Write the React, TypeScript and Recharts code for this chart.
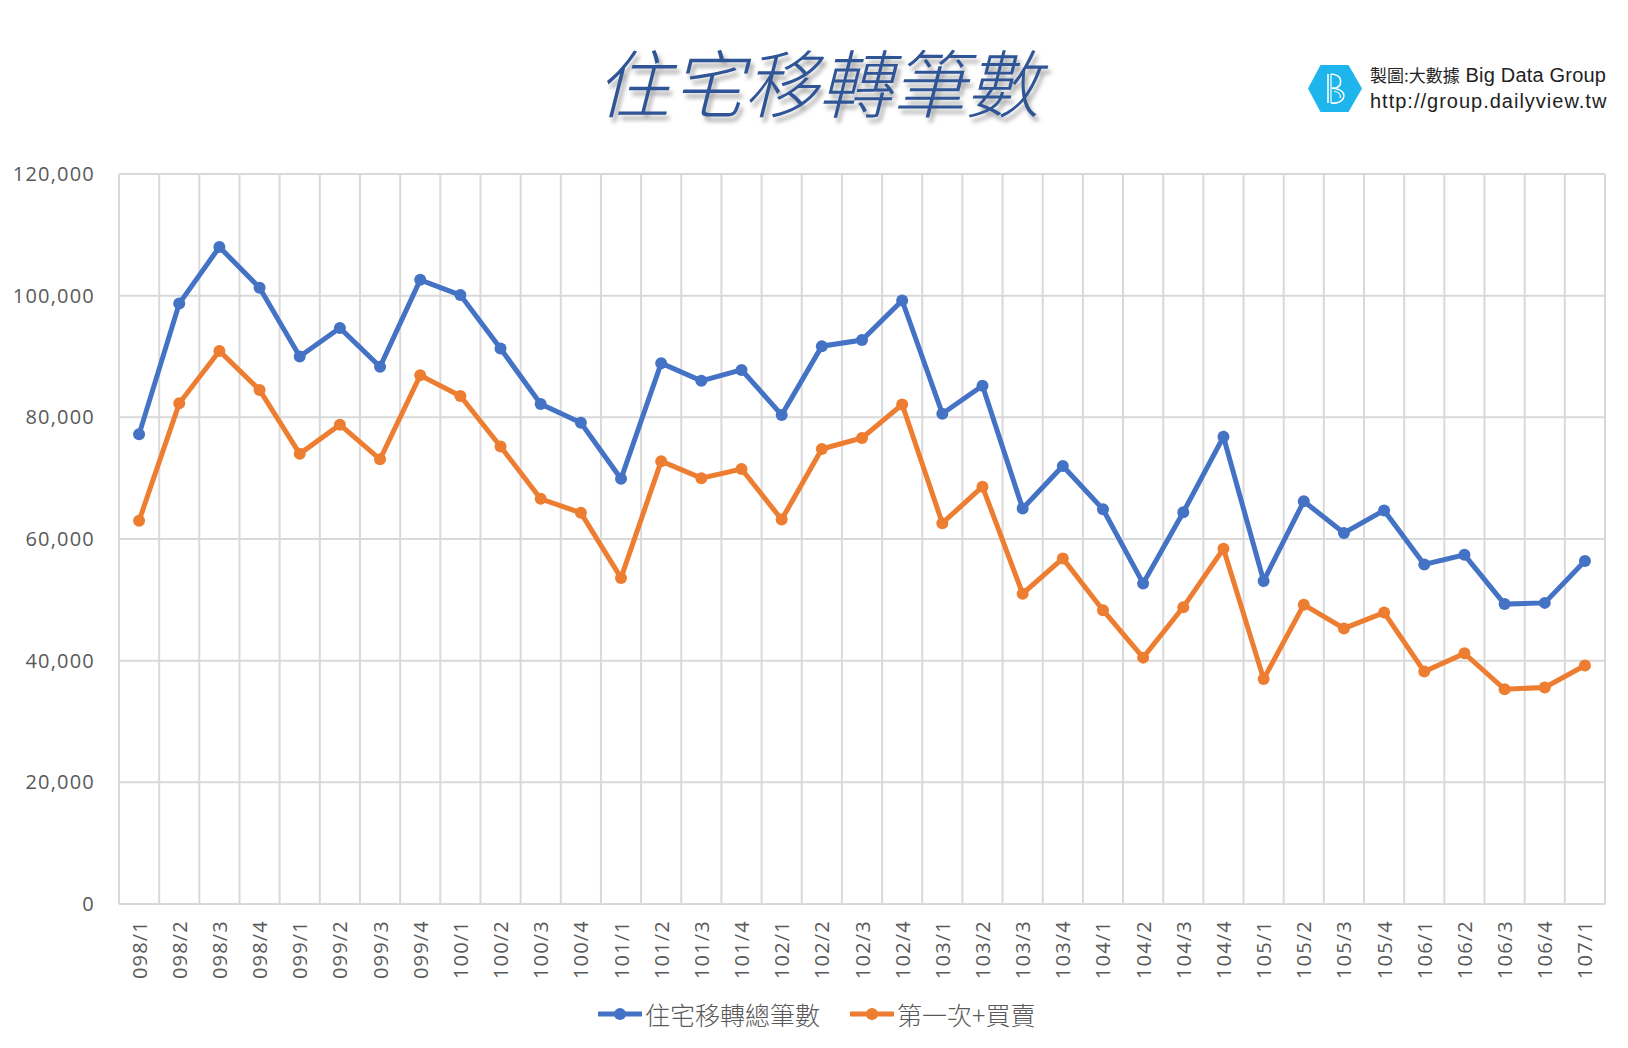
import React from 'react';
import { LineChart, Line, XAxis, YAxis, CartesianGrid } from 'recharts';

const quarters = [
  '098/1', '098/2', '098/3', '098/4',
  '099/1', '099/2', '099/3', '099/4',
  '100/1', '100/2', '100/3', '100/4',
  '101/1', '101/2', '101/3', '101/4',
  '102/1', '102/2', '102/3', '102/4',
  '103/1', '103/2', '103/3', '103/4',
  '104/1', '104/2', '104/3', '104/4',
  '105/1', '105/2', '105/3', '105/4',
  '106/1', '106/2', '106/3', '106/4',
  '107/1',
];

const totalTransfers = [
  77200, 98700, 108000, 101300,
  90000, 94700, 88300, 102600,
  100100, 91300, 82200, 79100,
  69900, 88900, 86000, 87800,
  80400, 91700, 92700, 99200,
  80600, 85200, 65000, 72000,
  64900, 52700, 64400, 76800,
  53100, 66200, 61000, 64700,
  55800, 57400, 49300, 49500,
  56400,
];

const firstAndSale = [
  63000, 82300, 90900, 84500,
  74000, 78800, 73100, 86900,
  83500, 75200, 66600, 64300,
  53600, 72800, 70000, 71500,
  63200, 74800, 76600, 82100,
  62600, 68600, 51000, 56800,
  48300, 40500, 48800, 58400,
  37000, 49200, 45300, 47900,
  38200, 41200, 35300, 35600,
  39200,
];

const yTicks = [0, 20000, 40000, 60000, 80000, 100000, 120000];

const seriesNames = ['住宅移轉總筆數', '第一次+買賣'];
const seriesColors = ['#4472C4', '#ED7D31'];

const data = quarters.map((q, i) => ({
  q,
  total: totalTransfers[i],
  first: firstAndSale[i],
}));

const W = 1628;
const H = 1048;
const PLOT_LEFT = 119;
const PLOT_RIGHT = 1605;
const PLOT_TOP = 174;
const PLOT_BOTTOM = 904;
const HALF = (PLOT_RIGHT - PLOT_LEFT) / quarters.length / 2;

const XTick = (props: any) => {
  const { x, y, payload } = props;
  const ty = y + 16;
  return (
    <text
      x={x}
      y={ty}
      transform={`rotate(-90 ${x} ${ty})`}
      textAnchor="end"
      dominantBaseline="central"
      fill="#595959"
      fontSize={20}
      letterSpacing={1.2}
      fontFamily="'Open Sans', sans-serif"
    >
      {payload.value}
    </text>
  );
};

const fmt = (v: number) => v.toLocaleString('en-US');

const LegendIcon = ({ color }: { color: string }) => (
  <svg width={44} height={14} style={{ display: 'block' }}>
    <line x1={1} y1={7} x2={43} y2={7} stroke={color} strokeWidth={5} strokeLinecap="round" />
    <circle cx={22} cy={7} r={6} fill={color} />
  </svg>
);

export default function App() {
  return (
    <div
      style={{
        position: 'absolute',
        left: 0,
        top: 0,
        width: W,
        height: H,
        background: '#ffffff',
        overflow: 'hidden',
      }}
    >
      {/* Title */}
      <div
        style={{
          position: 'absolute',
          left: 596,
          top: 40,
          fontSize: 74,
          lineHeight: '80px',
          fontFamily: "'Noto Sans CJK TC', sans-serif",
          fontWeight: 300,
          fontStyle: 'italic',
          color: '#2F5597',
          textShadow: '3px 5px 4px rgba(0,0,0,0.35)',
          whiteSpace: 'nowrap',
        }}
      >
        住宅移轉筆數
      </div>

      {/* Logo */}
      <svg
        width={56}
        height={49}
        style={{ position: 'absolute', left: 1307, top: 64 }}
      >
        <polygon points="13.5,1 41.5,1 55,24.5 41.5,48 13.5,48 1,24.5" fill="#1EB4EC" />
        <line x1={21} y1={10} x2={21} y2={39} stroke="#fff" strokeWidth={1.6} />
        <line x1={24} y1={10} x2={24} y2={39} stroke="#fff" strokeWidth={1.2} />
        <path d="M24 10 Q36 11 33 21 Q30 25 25 24" fill="none" stroke="#fff" strokeWidth={1.6} />
        <path d="M25 24 Q40 26 36 35 Q32 40 24 39" fill="none" stroke="#fff" strokeWidth={1.6} />
        <path d="M27 27 Q35 29 33 34" fill="none" stroke="#fff" strokeWidth={1.1} />
      </svg>
      <div
        style={{
          position: 'absolute',
          left: 1370,
          top: 62,
          color: '#222',
          fontFamily: "'Liberation Sans', Arial, sans-serif",
          whiteSpace: 'nowrap',
        }}
      >
        <div style={{ height: 26, lineHeight: '26px' }}>
          <span style={{ fontSize: 17, fontFamily: "'Noto Sans CJK TC', sans-serif" }}>製圖:大數據</span>
          <span style={{ fontSize: 20, letterSpacing: 0.2 }}> Big Data Group</span>
        </div>
        <div style={{ height: 26, lineHeight: '26px', fontSize: 20, letterSpacing: 1 }}>
          http://group.dailyview.tw
        </div>
      </div>

      <div style={{ position: 'absolute', left: 0, top: 0 }}>
        <LineChart
          width={W}
          height={H}
          data={data}
          margin={{ top: PLOT_TOP, right: W - PLOT_RIGHT, bottom: 0, left: 0 }}
        >
          <CartesianGrid
            stroke="#D9D9D9"
            strokeWidth={2}
            verticalCoordinatesGenerator={(args: any) => {
              const off = args.offset;
              const step = off.width / quarters.length;
              return Array.from({ length: quarters.length + 1 }, (_, i) => off.left + i * step);
            }}
          />
          <XAxis
            dataKey="q"
            interval={0}
            height={H - PLOT_BOTTOM}
            padding={{ left: HALF, right: HALF }}
            axisLine={{ stroke: '#D9D9D9', strokeWidth: 2 }}
            tickLine={false}
            tickSize={0}
            tickMargin={0}
            tick={<XTick />}
          />
          <YAxis
            width={PLOT_LEFT}
            domain={[0, 120000]}
            ticks={yTicks}
            interval={0}
            axisLine={false}
            tickLine={false}
            tickSize={0}
            tickMargin={24}
            tickFormatter={fmt}
            tick={{
              fill: '#595959',
              fontSize: 20,
              letterSpacing: 1.2,
              fontFamily: "'Open Sans', sans-serif",
            }}
          />
          <Line
            dataKey="total"
            name={seriesNames[0]}
            stroke={seriesColors[0]}
            strokeWidth={5}
            dot={{ r: 6, fill: seriesColors[0], stroke: seriesColors[0], strokeWidth: 0 }}
            activeDot={false}
            isAnimationActive={false}
          />
          <Line
            dataKey="first"
            name={seriesNames[1]}
            stroke={seriesColors[1]}
            strokeWidth={5}
            dot={{ r: 6, fill: seriesColors[1], stroke: seriesColors[1], strokeWidth: 0 }}
            activeDot={false}
            isAnimationActive={false}
          />
        </LineChart>
      </div>

      {/* Legend */}
      <div
        style={{
          position: 'absolute',
          left: 598,
          top: 996,
          height: 36,
          display: 'flex',
          alignItems: 'center',
          fontFamily: "'Noto Sans CJK TC', sans-serif",
          fontSize: 25,
          fontWeight: 300,
          color: '#595959',
          whiteSpace: 'nowrap',
        }}
      >
        <LegendIcon color={seriesColors[0]} />
        <span style={{ marginLeft: 3 }}>{seriesNames[0]}</span>
        <span style={{ width: 30 }} />
        <LegendIcon color={seriesColors[1]} />
        <span style={{ marginLeft: 3 }}>{seriesNames[1]}</span>
      </div>
    </div>
  );
}
